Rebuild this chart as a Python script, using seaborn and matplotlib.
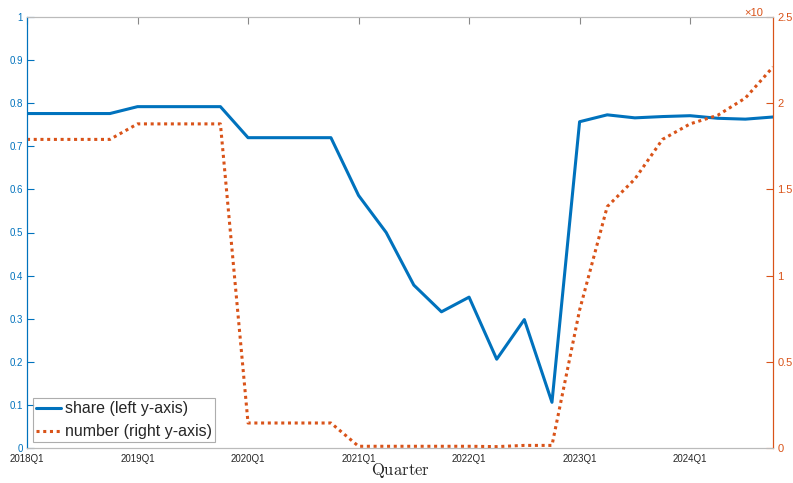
import numpy as np
import pandas as pd
import seaborn as sns
import matplotlib
matplotlib.use("Agg")
from matplotlib import pyplot as plt

# quarterly data, 2018Q1 .. 2024Q4
quarters = ["%dQ%d" % (y, q) for y in range(2018, 2025) for q in range(1, 5)]

share = [0.776, 0.776, 0.776, 0.776, 0.792, 0.792, 0.792, 0.792,
         0.720, 0.720, 0.720, 0.720, 0.586, 0.500, 0.378, 0.316,
         0.350, 0.206, 0.298, 0.106, 0.757, 0.773, 0.766, 0.769,
         0.771, 0.765, 0.763, 0.768]

number = [1.79, 1.79, 1.79, 1.79, 1.88, 1.88, 1.88, 1.88,
          0.145, 0.145, 0.145, 0.145, 0.01, 0.01, 0.01, 0.01,
          0.01, 0.008, 0.015, 0.015, 0.80, 1.40, 1.56, 1.79,
          1.88, 1.93, 2.03, 2.21]

xtick_labels = ["2018Q1", "2019Q1", "2020Q1", "2021Q1", "2022Q1", "2023Q1", "2024Q1"]

blue = "#0072BD"
orange = "#D95319"

df = pd.DataFrame({"t": np.arange(len(quarters)), "share": share, "number": number})

sns.set_style("white")
plt.rcParams["font.family"] = ["Liberation Sans", "DejaVu Sans"]
plt.rcParams["mathtext.fontset"] = "cm"

fig = plt.figure(figsize=(7.93, 4.83), dpi=100)
ax = fig.add_axes([27 / 793, 1 - 448 / 483, (773 - 27) / 793, (448 - 17) / 483])
ax2 = ax.twinx()

sns.lineplot(data=df, x="t", y="share", ax=ax, color=blue, lw=2.2,
             label="share (left y-axis)", legend=False)
sns.lineplot(data=df, x="t", y="number", ax=ax2, color=orange, lw=2.2,
             linestyle=(0, (1, 1.2)), label="number (right y-axis)", legend=False)

ax.set_xlim(0, len(quarters) - 1)
ax.set_ylim(0, 1)
ax2.set_ylim(0, 2.5)

ax.set_xticks(np.arange(0, len(quarters), 4))
ax.set_xticklabels(xtick_labels, fontsize=7, color="#262626")
ax.set_yticks(np.arange(0, 1.01, 0.1))
ax.set_yticklabels(["0"] + ["%.1f" % v for v in np.arange(0.1, 0.95, 0.1)] + ["1"],
                   fontsize=7, color=blue)
ax2.set_yticks(np.arange(0, 2.51, 0.5))
ax2.set_yticklabels(["0", "0.5", "1", "1.5", "2", "2.5"], fontsize=8, color=orange)

ax.tick_params(axis="x", direction="in", length=5, top=True, color="#888888", pad=4)
ax.tick_params(axis="y", direction="in", length=5, color=blue, pad=3)
ax2.tick_params(axis="y", direction="in", length=5, color=orange, pad=3)

for a in (ax, ax2):
    a.spines["top"].set_color("#bbbbbb")
    a.spines["bottom"].set_color("#bbbbbb")
    a.spines["left"].set_color(blue)
    a.spines["right"].set_color(orange)
    for s in a.spines.values():
        s.set_linewidth(0.8)

ax.set_ylabel("")
ax2.set_ylabel("")
ax.set_xlabel(r"$\mathrm{Quarter}$", fontsize=12, labelpad=-2)

fig.text(744 / 793, 1 - 13 / 483, "\u00d710", color=orange, fontsize=8, va="center")

h1, l1 = ax.get_legend_handles_labels()
h2, l2 = ax2.get_legend_handles_labels()
leg = ax2.legend(h1 + h2, l1 + l2, loc="lower left", fontsize=11.5, frameon=True,
                 fancybox=False, edgecolor="#999999", borderaxespad=0.35,
                 handlelength=1.6, handletextpad=0.2, borderpad=0.2, labelspacing=0.5)
leg.get_frame().set_linewidth(0.8)

fig.savefig("out.png", dpi=100)
